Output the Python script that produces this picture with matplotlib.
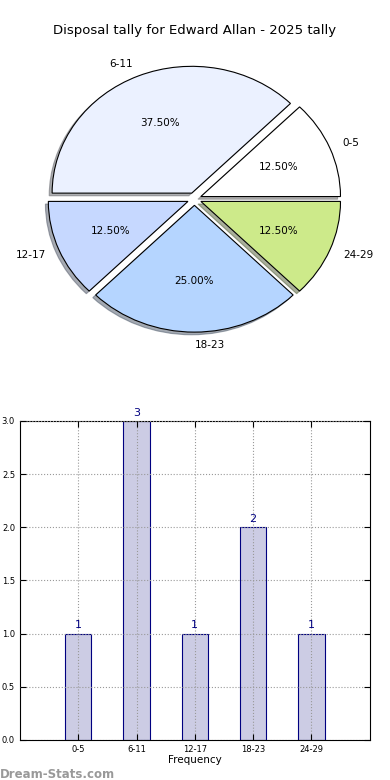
import matplotlib
matplotlib.use('Agg')
import matplotlib.pyplot as plt
import numpy as np

labels = ['0-5', '6-11', '12-17', '18-23', '24-29']
counts = [1, 3, 1, 2, 1]
colors = ['#ffffff', '#ebf1ff', '#c6d8ff', '#b5d5ff', '#cdea8a']
title = 'Disposal tally for Edward Allan - 2025 tally'

fig = plt.figure(figsize=(3.9, 7.8), dpi=100)

# pie on top (stretched, not round)
ax1 = fig.add_axes([0.051, 0.5417, 0.895, 0.4064])
ax1.pie(counts, labels=labels, colors=colors, explode=[0.05] * 5,
        autopct='%.2f%%', shadow={'ox': -0.015, 'oy': -0.015, 'shade': 0.6},
        startangle=0,
        wedgeprops={'edgecolor': 'black', 'linewidth': 0.8},
        textprops={'fontsize': 7.5})
ax1.set_aspect('auto')
ax1.set_xlim(-1.25, 1.25)
ax1.set_ylim(-1.25, 1.25)
ax1.set_title(title, fontsize=9.5, pad=5)

# bar chart below
ax2 = fig.add_axes([0.051, 0.0513, 0.897, 0.409])
x = np.arange(len(labels))
ax2.bar(x, counts, width=0.45, color='#ccccE4', edgecolor='#000080', linewidth=0.8)
for xi, c in zip(x, counts):
    ax2.text(xi, c + 0.03, str(c), ha='center', va='bottom', color='#000080', fontsize=8)
ax2.set_xlim(-1, 5)
ax2.set_ylim(0, 3)
ax2.set_xticks(x)
ax2.set_xticklabels(labels, fontsize=6)
ax2.set_yticks(np.arange(0, 3.01, 0.5))
ax2.tick_params(axis='y', labelsize=6)
ax2.tick_params(direction='in', top=True, right=True, length=4)
ax2.grid(True, linestyle=':', color='#999999', linewidth=0.8)
ax2.set_axisbelow(False)
ax2.set_xlabel('Frequency', fontsize=7.5, labelpad=1)

fig.text(0.0, 0.003, 'Dream-Stats.com', fontsize=8.5, color='#999999', fontweight='bold')

fig.savefig('out.png', dpi=100)
